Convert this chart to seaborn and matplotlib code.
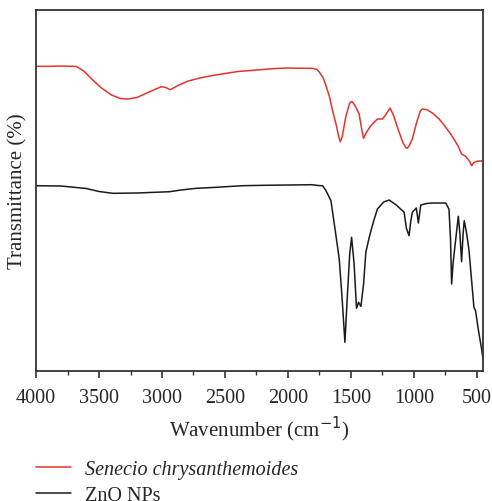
import pandas as pd
import seaborn as sns
import matplotlib.pyplot as plt
from matplotlib.ticker import MultipleLocator

# FTIR spectra (transmittance in arbitrary units)
red_wn = [4000, 3900, 3800, 3700, 3680, 3620, 3550, 3480, 3400, 3330,
          3270, 3200, 3120, 3050, 3005, 2970, 2934, 2880, 2800, 2700,
          2600, 2500, 2400, 2300, 2200, 2100, 2015, 1900, 1805, 1770,
          1750, 1720, 1698, 1670, 1646, 1615, 1600, 1585, 1570, 1540,
          1510, 1493, 1470, 1435, 1415, 1400, 1380, 1350, 1329, 1290,
          1250, 1220, 1189, 1160, 1131, 1090, 1065, 1052, 1035, 1013,
          980, 950, 933, 900, 854, 800, 762, 720, 683, 650,
          622, 590, 560, 542, 525, 511, 490, 463, 452]
red_t = [304.7, 304.7, 305, 304.7, 304.5, 300, 291, 283, 276, 272.5,
         272, 273.5, 278, 282, 284.3, 283.5, 281.3, 285, 289.7, 293,
         295.5, 297.5, 299.5, 300.5, 301.5, 302.5, 303, 302.8, 302.7, 301.5,
         298.7, 293, 285.3, 274, 260.3, 245, 236, 229.3, 234, 255,
         268, 269.7, 266, 257, 242, 232.7, 238, 244, 247, 252,
         252, 257, 263, 255, 243.7, 229, 223.5, 222.7, 226, 232,
         248, 260, 262, 261.5, 258, 252, 246, 239, 232, 225,
         217, 214.7, 210, 205.3, 208.5, 209.3, 210, 210, 211]

zno_wn = [4000, 3800, 3600, 3500, 3388, 3200, 3000, 2939, 2850, 2728,
          2600, 2361, 2200, 2000, 1807, 1760, 1725, 1698, 1659, 1619,
          1593, 1570, 1548, 1530, 1510, 1495, 1475, 1456, 1440, 1421,
          1400, 1382, 1355, 1320, 1290, 1240, 1197, 1140, 1078, 1060,
          1039, 1025, 1013, 981, 965, 946, 900, 854, 748, 722,
          710, 701, 690, 680, 648, 635, 622, 610, 601, 585,
          564, 540, 524, 511, 490, 463, 452]
zno_t = [185.3, 185, 182.5, 179.5, 177.7, 178, 179, 179.3, 181, 182.7,
         183.5, 185.3, 185.7, 186, 186.3, 185.5, 185.3, 180.3, 170.3, 135.3,
         112, 72, 28.7, 72, 117, 133.7, 107, 62.7, 68.7, 64.7,
         87, 118.7, 133.7, 150, 162, 169, 171, 166, 158.7, 142.7,
         135.3, 150, 158.7, 163, 148, 166, 167.5, 168, 168, 162,
         132, 87, 107, 118.7, 154.7, 137, 109.3, 137, 150.3, 140,
         122, 87, 63.7, 60.3, 42, 22, 12]

labels = ['Senecio chrysanthemoides', 'ZnO NPs']
colors = ['#e3342b', '#1a1a1a']

df = pd.concat([
    pd.DataFrame({'wn': red_wn, 't': red_t, 'sample': labels[0]}),
    pd.DataFrame({'wn': zno_wn, 't': zno_t, 'sample': labels[1]}),
])

sns.set_style('white')
plt.rcParams['font.family'] = ['Liberation Serif', 'DejaVu Serif']

fig = plt.figure(figsize=(4.92, 5.02), dpi=100)
ax = fig.add_axes([0.0732, 0.259, 0.9085, 0.719])

sns.lineplot(data=df, x='wn', y='t', hue='sample', palette=colors,
             estimator=None, sort=False, linewidth=1.1, ax=ax, legend=False)

ax.set_xlim(4000, 452)
ax.set_ylim(0, 361)
ax.xaxis.set_major_locator(MultipleLocator(500))
ax.xaxis.set_minor_locator(MultipleLocator(250))
ax.tick_params(axis='x', which='major', direction='out', length=5, width=1.2,
               color='#333333', labelsize=14.5, pad=7, bottom=True)
ax.tick_params(axis='x', which='minor', direction='out', length=3, width=1.0,
               color='#333333', bottom=True)
ax.set_yticks([])
for s in ax.spines.values():
    s.set_color('#333333')
    s.set_linewidth(1.3)

ax.set_xlabel('Wavenumber (cm$^{-1}$)', fontsize=15, labelpad=5)
ax.set_ylabel('Transmittance (%)', fontsize=15, labelpad=6)

handles = [plt.Line2D([], [], color=c, lw=1.1) for c in colors]
leg = fig.legend(handles, labels, loc='upper left', bbox_to_anchor=(0.073, 0.082),
                 frameon=False, fontsize=14.5, handlelength=1.75, handletextpad=0.7,
                 labelspacing=0.35, borderaxespad=0, borderpad=0)
leg.get_texts()[0].set_style('italic')

fig.savefig('out.png', dpi=100)
